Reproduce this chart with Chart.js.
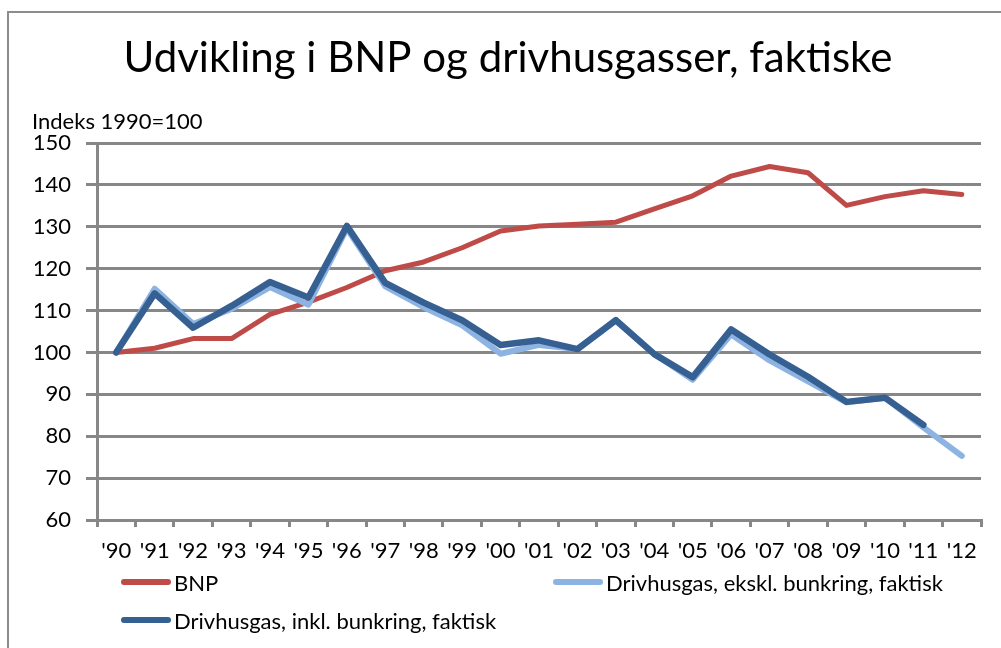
<!DOCTYPE html>
<html lang="da">
<head>
  <meta charset="UTF-8">
  <title>Udvikling i BNP og drivhusgasser</title>
  <script src="https://cdn.jsdelivr.net/npm/chart.js"></script>
  <style>
    html, body { margin: 0; padding: 0; background: #fff; overflow: hidden; }
    body { width: 1001px; height: 648px; position: relative; font-family: 'Lato', sans-serif; }
    .frame { position: absolute; left: 7px; top: 11px; width: 1200px; height: 800px; border: 2px solid #8c8c8c; }
    .chart-box { position: absolute; left: 0; top: 0; width: 1001px; height: 648px; }
    .legend { position: absolute; left: 0; top: 0; width: 1001px; height: 648px; pointer-events: none; }
    .legend .item { position: absolute; display: flex; align-items: center; font-size: 22px; color: #000; white-space: nowrap; }
    .legend .swatch { width: 50px; height: 6px; border-radius: 3px; margin-right: 3px; }
  </style>
</head>
<body>

<div class="frame"></div>
<div class="chart-box">
  <canvas id="bnpChart"></canvas>
</div>
<div class="legend" id="legend"></div>

<script>
  // --- data (index 1990 = 100) ---
  const years = ["'90", "'91", "'92", "'93", "'94", "'95", "'96", "'97", "'98", "'99", "'00",
                 "'01", "'02", "'03", "'04", "'05", "'06", "'07", "'08", "'09", "'10", "'11", "'12"];

  const bnp = [100, 101, 103.3, 103.3, 109.1, 112, 115.5, 119.5, 121.6, 125, 129,
               130.2, 130.6, 131.1, 134.3, 137.4, 142.1, 144.4, 142.9, 135.1, 137.2, 138.6, 137.7];

  const drivEkskl = [100, 115.2, 106.8, 110.4, 115.6, 111.4, 129.6, 115.8, 110.8, 106.5, 99.7,
                     101.8, 100.8, 107.7, 99.6, 93.5, 104.3, 98.1, 93.1, 88.1, 89.2, 82.1, 75.3];

  const drivInkl = [100, 114.1, 105.9, 111.1, 116.8, 113.1, 130.2, 116.6, 111.9, 107.7, 101.8,
                    102.9, 100.8, 107.7, 99.6, 94.1, 105.5, 99.5, 94.2, 88.2, 89.2, 82.7, null];

  const seriesNames = ['BNP', 'Drivhusgas, ekskl. bunkring, faktisk', 'Drivhusgas, inkl. bunkring, faktisk'];
  const seriesColors = ['#be4b48', '#8db3e2', '#376092'];

  const yTicks = [60, 70, 80, 90, 100, 110, 120, 130, 140, 150];
  const axisTitle = 'Indeks 1990=100';

  const gridColor = '#878787';
  const fontFamily = "'Lato', sans-serif";

  // small plugin for the "Indeks 1990=100" text above the value axis
  const axisTitlePlugin = {
    id: 'axisTitle',
    afterDraw(chart) {
      const { ctx, chartArea } = chart;
      ctx.save();
      ctx.font = '22px ' + fontFamily;
      ctx.fillStyle = '#000';
      ctx.textAlign = 'left';
      ctx.textBaseline = 'alphabetic';
      ctx.fillText(axisTitle, chartArea.left - 65, chartArea.top - 14);
      ctx.restore();
    }
  };

  const ctx = document.getElementById('bnpChart').getContext('2d');

  new Chart(ctx, {
    type: 'line',
    data: {
      labels: years,
      datasets: [
        { label: seriesNames[0], data: bnp, borderColor: seriesColors[0], borderWidth: 5, order: 3 },
        { label: seriesNames[1], data: drivEkskl, borderColor: seriesColors[1], borderWidth: 6, order: 2 },
        { label: seriesNames[2], data: drivInkl, borderColor: seriesColors[2], borderWidth: 6.5, order: 1 }
      ]
    },
    options: {
      responsive: true,
      maintainAspectRatio: false,
      animation: false,
      layout: { padding: { left: 35, right: 20, top: 0, bottom: 0 } },
      elements: {
        line: { tension: 0, fill: false, borderJoinStyle: 'round', borderCapStyle: 'round' },
        point: { radius: 0, hoverRadius: 0 }
      },
      scales: {
        x: {
          offset: true,
          grid: { display: true, drawOnChartArea: false, offset: true, color: gridColor, lineWidth: 3, tickLength: 7, tickWidth: 3 },
          border: { display: true, color: gridColor, width: 3 },
          ticks: { color: '#000', padding: 11, maxRotation: 0, autoSkip: false, font: { family: fontFamily, size: 22 } },
          afterFit(scale) { scale.height = 128; scale.paddingLeft = 0; scale.paddingRight = 0; }
        },
        y: {
          min: 60,
          max: 150,
          afterBuildTicks(scale) { scale.ticks = yTicks.map(v => ({ value: v })); },
          grid: { color: gridColor, lineWidth: 3, tickLength: 11 },
          border: { display: true, color: gridColor, width: 3 },
          ticks: { color: '#000', padding: 15, font: { family: fontFamily, size: 22 } },
          afterFit(scale) { scale.width = 62; scale.paddingTop = 0; scale.paddingBottom = 0; }
        }
      },
      plugins: {
        legend: { display: false },
        tooltip: { enabled: false },
        title: {
          display: true,
          text: 'Udvikling i BNP og drivhusgasser, faktiske',
          color: '#000',
          font: { family: fontFamily, size: 42, weight: 'normal' },
          padding: { top: 33, bottom: 59.6 }
        }
      }
    },
    plugins: [axisTitlePlugin]
  });

  // legend as plain text, two columns like the original
  const legendPos = [ { left: 121, top: 582 }, { left: 553, top: 582 }, { left: 121, top: 620 } ];
  const legendEl = document.getElementById('legend');
  seriesNames.forEach((name, i) => {
    const item = document.createElement('div');
    item.className = 'item';
    item.style.left = legendPos[i].left + 'px';
    item.style.top = (legendPos[i].top - 14) + 'px';
    item.style.height = '28px';
    item.innerHTML = '<span class="swatch" style="background:' + seriesColors[i] + '"></span><span>' + name + '</span>';
    legendEl.appendChild(item);
  });
</script>

</body>
</html>
